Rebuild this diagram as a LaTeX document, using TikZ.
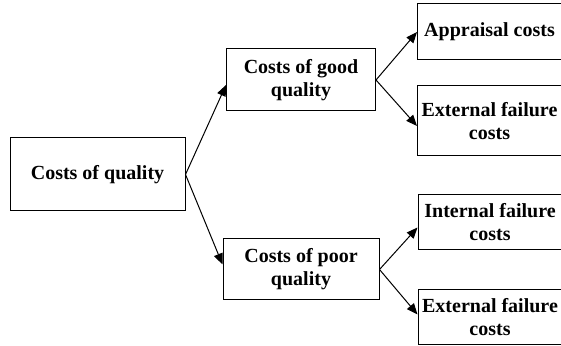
\documentclass[tikz,border=0pt]{standalone}
\usepackage{fontspec}
\setmainfont{Liberation Serif}
\usetikzlibrary{positioning, arrows.meta}

\begin{document}
\begin{tikzpicture}[
    costbox/.style={draw, line width=0.5pt, align=center, inner sep=2pt},
    leafbox/.style={costbox, minimum width=72pt},
    branch/.style={line width=0.5pt, -{Triangle[length=5.5pt, width=4.5pt]}},
    font=\fontsize{10}{11.5}\selectfont\bfseries
]
\useasboundingbox (0,0) rectangle (280.5pt,173pt);
% Root box on the left
\node[costbox, minimum width=87.5pt, minimum height=36.5pt] (root) at (48.75pt,85.75pt) {Costs of quality};
% Middle column
\node[costbox, minimum width=74.5pt, minimum height=31pt, right=20.25pt of root, yshift=47.25pt] (good) {Costs of good\\quality};
\node[costbox, minimum width=78pt, minimum height=30.5pt, right=18.5pt of root, yshift=-47.5pt] (poor) {Costs of poor\\quality};
% Right column
\node[leafbox, minimum height=28pt, right=20.5pt of good, yshift=24pt] (appraisal) {Appraisal costs};
\node[leafbox, minimum height=35pt, right=20.5pt of good, yshift=-20.5pt] (extgood) {External failure\\costs};
\node[leafbox, minimum height=27.5pt, right=19pt of poor, yshift=23.5pt] (internal) {Internal failure\\costs};
\node[leafbox, minimum height=27.5pt, right=19pt of poor, yshift=-24pt] (extpoor) {External failure\\costs};
% Arrows
\draw[branch] (root.east) -- ([yshift=-2.5pt]good.west);
\draw[branch] (root.east) -- ([yshift=2.5pt]poor.west);
\draw[branch] (good.east) -- (appraisal.west);
\draw[branch] (good.east) -- ([yshift=-2.5pt]extgood.west);
\draw[branch] (poor.east) -- ([yshift=-2.5pt]internal.west);
\draw[branch] (poor.east) -- ([yshift=1.5pt]extpoor.west);
\end{tikzpicture}
\end{document}
